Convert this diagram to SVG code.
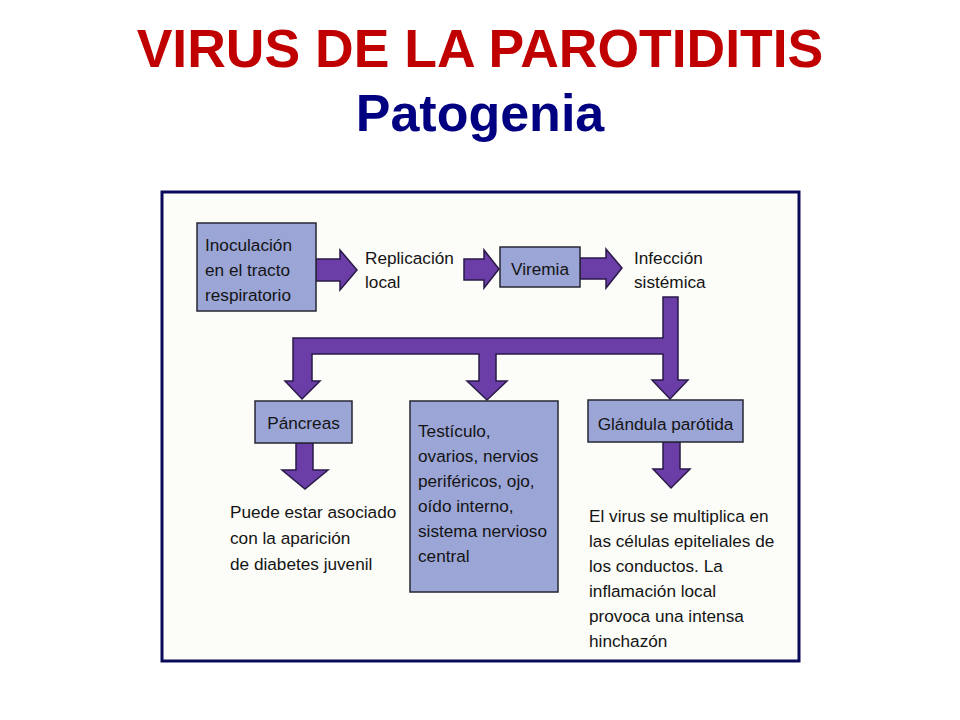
<svg xmlns="http://www.w3.org/2000/svg" width="960" height="720" viewBox="0 0 960 720">
<style>
.title{font-family:"Liberation Sans",Arial,sans-serif;font-weight:bold;text-anchor:middle}
.t{font-family:"Liberation Sans",Arial,sans-serif;font-size:17.2px;fill:#141414}
.c{text-anchor:middle}
.box{fill:#9ba5d6;stroke:#262633;stroke-width:1.5}
.arr{fill:#6a3ea6;stroke:#2a1a48;stroke-width:1.5;stroke-linejoin:miter}
</style>
<rect x="0" y="0" width="960" height="720" fill="#ffffff"/>
<text class="title" x="480" y="67" font-size="53.5" fill="#c00000">VIRUS DE LA PAROTIDITIS</text>
<text class="title" x="480" y="131" font-size="52" fill="#000080">Patogenia</text>
<rect id="frame" x="162" y="192" width="637" height="469" fill="#fcfcf8" stroke="#0a0a5a" stroke-width="3"/>
<g id="connectors">
<polygon class="arr" points="316,259 340,259 340,250 357,270 340,290 340,281 316,281"/>
<polygon class="arr" points="464,259 484,259 484,250 499,269 484,288 484,280 464,280"/>
<polygon class="arr" points="580,258 606,258 606,249 622,268 606,288 606,279 580,279"/>
<polygon class="arr" points="663,297 678,297 678,380 688,380 670,399 652,380 663,380 663,354 496,354 496,381 507,381 487,400 467,381 479,381 479,354 312,354 312,381 320,381 302,399 285,381 293,381 293,338 663,338"/>
<polygon class="arr" points="296,443 313,443 313,470 328,470 305,489 282,470 296,470"/>
<polygon class="arr" points="663,442 680,442 680,469 690,469 671,488 653,469 663,469"/>
</g>
<g id="inoculacion">
<rect class="box" x="197" y="223" width="119" height="88"/>
<text class="t" x="205" y="251">Inoculación</text>
<text class="t" x="205" y="276">en el tracto</text>
<text class="t" x="205" y="301">respiratorio</text>
</g>
<g id="replicacion">
<text class="t" x="365" y="264">Replicación</text>
<text class="t" x="365" y="288">local</text>
</g>
<g id="viremia">
<rect class="box" x="500" y="247" width="80" height="40"/>
<text class="t c" x="540" y="275">Viremia</text>
</g>
<g id="infeccion">
<text class="t" x="634" y="264">Infección</text>
<text class="t" x="634" y="288">sistémica</text>
</g>
<g id="pancreas">
<rect class="box" x="255" y="401" width="97" height="42"/>
<text class="t c" x="303.5" y="429">Páncreas</text>
</g>
<g id="diabetes">
<text class="t" x="230" y="518">Puede estar asociado</text>
<text class="t" x="230" y="544">con la aparición</text>
<text class="t" x="230" y="570">de diabetes juvenil</text>
</g>
<g id="testiculo">
<rect class="box" x="410" y="401" width="148" height="191"/>
<text class="t" x="418" y="437">Testículo,</text>
<text class="t" x="418" y="462">ovarios, nervios</text>
<text class="t" x="418" y="487">periféricos, ojo,</text>
<text class="t" x="418" y="512">oído interno,</text>
<text class="t" x="418" y="537">sistema nervioso</text>
<text class="t" x="418" y="562">central</text>
</g>
<g id="parotida">
<rect class="box" x="588" y="400" width="155" height="42"/>
<text class="t c" x="665.5" y="430">Glándula parótida</text>
</g>
<g id="multiplica">
<text class="t" x="589" y="522">El virus se multiplica en</text>
<text class="t" x="589" y="547">las células epiteliales de</text>
<text class="t" x="589" y="572">los conductos. La</text>
<text class="t" x="589" y="597">inflamación local</text>
<text class="t" x="589" y="622">provoca una intensa</text>
<text class="t" x="589" y="647">hinchazón</text>
</g>
</svg>
